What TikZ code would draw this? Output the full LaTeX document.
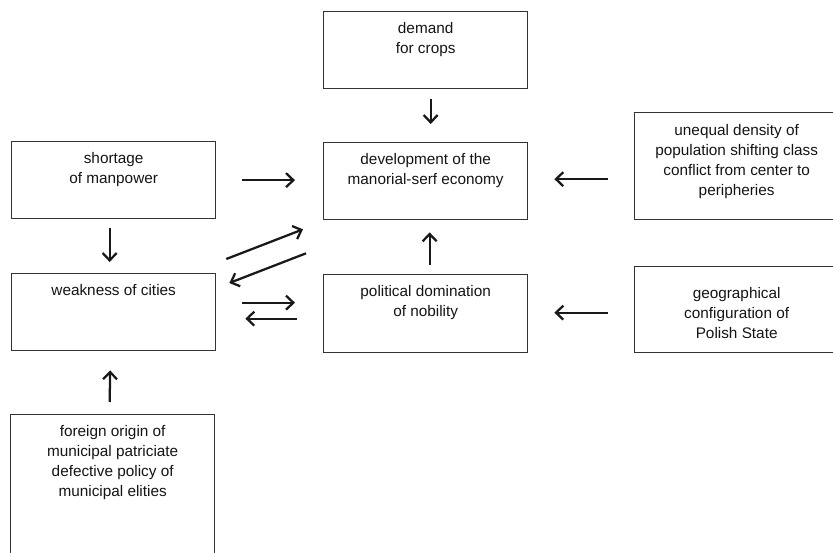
\documentclass[tikz,border=0pt]{standalone}
\usepackage{fontspec}
\setmainfont{Liberation Sans}
\usepackage{tikz}
\usetikzlibrary{arrows.meta,calc}

\begin{document}
\begin{tikzpicture}[x=0.75pt,y=-0.75pt,
  box/.style={draw=black!80,line width=1pt,minimum width=153pt,anchor=north west,inner sep=0pt},
  txt/.style={anchor=north,align=center,inner sep=0pt,text=black!92,font=\fontsize{11.5}{15}\selectfont},
  arr/.style={line width=1.7pt,black!90,-{Straight Barb[length=5.5pt,width=10.5pt]}}]
\useasboundingbox (0,0) rectangle (833,553);
\clip (0,0) rectangle (833,553);

% Boxes
\node[box,minimum height=57.75pt] (dem) at (323,11) {};
\node[box,minimum height=57.75pt] (dev) at (323,142) {};
\node[box,minimum height=57.75pt] (sho) at (11,141) {};
\node[box,minimum height=80.25pt] (une) at (634,112) {};
\node[box,minimum height=57.75pt] (wea) at (11,273) {};
\node[box,minimum height=58.5pt] (pol) at (323,274) {};
\node[box,minimum height=64.5pt] (geo) at (634,266) {};
\node[box,minimum height=112.5pt] (for) at (10,414) {};

% Texts
\node[txt] (demt) at ($(dem.north)+(0,11)$) {demand\\for crops};
\node[txt] (devt) at ($(dev.north)+(0,11)$) {development of the\\manorial-serf economy};
\node[txt] (shot) at ($(sho.north)+(0,11)$) {shortage\\of manpower};
\node[txt] (unet) at ($(une.north)+(0,12)$) {unequal density of\\population shifting class\\conflict from center to\\peripheries};
\node[txt] (weat) at ($(wea.north)+(0,11)$) {weakness of cities};
\node[txt] (polt) at ($(pol.north)+(0,11)$) {political domination\\of nobility};
\node[txt] (geot) at ($(geo.north)+(0,21)$) {geographical\\configuration of\\Polish State};
\node[txt] (fort) at ($(for.north)+(0,11)$) {foreign origin of\\municipal patriciate\\defective policy of\\municipal elities};

% Arrows
\draw[arr] ($(dem.south)+(5,10)$) -- ($(dev.north)+(5,-18)$);
\draw[arr] ($(sho.east)+(26,0)$) -- ($(dev.west)+(-28,-1)$);
\draw[arr] ($(une.west |- dev.east)+(-26,-2)$) -- ($(dev.east)+(26,-2)$);
\draw[arr] ($(sho.south)+(-4,9)$) -- ($(wea.north)+(-4,-11)$);
\draw[arr] ($(wea.north east)+(10,-14)$) -- ($(dev.south west)+(-20,9)$);
\draw[arr] ($(dev.south west)+(-17,33)$) -- ($(wea.north east)+(13,10)$);
\draw[arr] ($(wea.east)+(26,-9.5)$) -- ($(pol.west)+(-28,-11)$);
\draw[arr] ($(pol.west)+(-26,5)$) -- ($(wea.east)+(29,6.5)$);
\draw[arr] ($(pol.north)+(4,-9)$) -- ($(dev.south)+(4,12)$);
\draw[arr] ($(geo.west)+(-26,3)$) -- ($(pol.east)+(26,-1)$);
\draw[arr] ($(for.north)+(-3,-12)$) -- ($(wea.south)+(-3.5,19)$);
\end{tikzpicture}
\end{document}
